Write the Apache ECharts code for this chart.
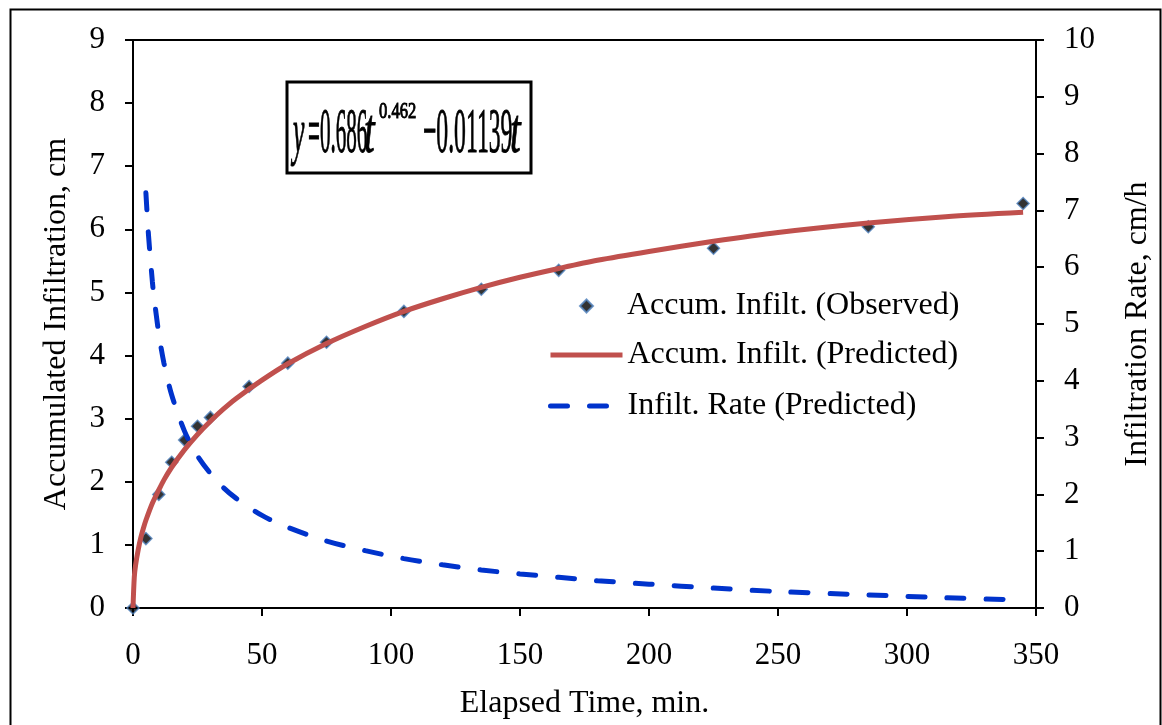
<!DOCTYPE html>
<html>
<head>
<meta charset="utf-8">
<script src="https://cdn.jsdelivr.net/npm/echarts@6/dist/echarts.min.js"></script>
<style>html,body{margin:0;padding:0;background:#fff}#c{width:1162px;height:725px}</style>
</head>
<body>
<div id="c"></div>
<script>
// Observed accumulated infiltration (t in min, cm)
var obsTime = [0, 5, 10, 15, 20, 25, 30, 45, 60, 75, 105, 135, 165, 225, 285, 345];
var obsAccum = [0, 1.1, 1.8, 2.31, 2.66, 2.88, 3.02, 3.51, 3.88, 4.21, 4.7, 5.05, 5.35, 5.7, 6.04, 6.41];
// Predicted accumulated infiltration curve
var predTime = [0, 0.5, 1, 2, 3, 4, 5, 7.5, 10, 12, 15, 20, 25, 30, 35, 40, 50, 60, 75, 90, 105, 120, 135, 150, 165, 180, 200, 225, 250, 285, 315, 345];
var predAccum = [0, 0.49, 0.68, 0.92, 1.11, 1.26, 1.39, 1.66, 1.87, 2.03, 2.23, 2.51, 2.75, 2.96, 3.15, 3.32, 3.61, 3.87, 4.19, 4.46, 4.70, 4.90, 5.08, 5.24, 5.38, 5.51, 5.65, 5.81, 5.95, 6.10, 6.20, 6.27];
// Predicted infiltration rate (cm/h)
var rateTime = [5, 6, 7.5, 8, 10, 12, 15, 20, 25, 30, 35, 40, 50, 60, 75, 90, 105, 120, 135, 150, 165, 180, 200, 225, 250, 285, 315, 345];
var rateVal = [7.31, 6.57, 5.75, 5.53, 4.83, 4.31, 3.75, 3.11, 2.68, 2.37, 2.12, 1.93, 1.63, 1.42, 1.18, 1.01, 0.87, 0.76, 0.67, 0.60, 0.54, 0.48, 0.42, 0.35, 0.29, 0.23, 0.18, 0.14];

var seriesNames = ['Accum. Infilt. (Observed)', 'Accum. Infilt. (Predicted)', 'Infilt. Rate (Predicted)'];
var xTitle = 'Elapsed Time, min.';
var yLeftTitle = 'Accumulated Infiltration, cm';
var yRightTitle = 'Infiltration Rate, cm/h';

function pairs(a, b) { return a.map(function (v, i) { return [v, b[i]]; }); }

var FONT = 'Liberation Serif';
var chart = echarts.init(document.getElementById('c'), null, {renderer: 'canvas'});

var axisCommon = {
  axisLine: {show: true, lineStyle: {color: '#000', width: 2}},
  axisTick: {show: true, inside: false, length: 8, lineStyle: {color: '#000', width: 2}},
  splitLine: {show: false},
  nameLocation: 'middle',
  nameTextStyle: {fontFamily: FONT, fontSize: 32, color: '#000'}
};
var legendText = {fontFamily: FONT, fontSize: 32, color: '#000', lineHeight: 30};

function eqText(x, y, sx, txt, font) {
  return {type: 'text', x: x, y: y, scaleX: sx, z: 11,
    style: {text: txt, font: font, fill: '#000', stroke: '#000', lineWidth: 1, verticalAlign: 'middle'}};
}

chart.setOption({
  animation: false,
  backgroundColor: '#fff',
  grid: {left: 133, right: 120, top: 40, bottom: 116, show: true, borderColor: '#000', borderWidth: 2, containLabel: false},
  xAxis: Object.assign({}, axisCommon, {
    type: 'value', min: 0, max: 350, interval: 50,
    name: xTitle, nameGap: 80,
    axisLabel: {fontFamily: FONT, fontSize: 31, color: '#000', margin: 32}
  }),
  yAxis: [
    Object.assign({}, axisCommon, {
      type: 'value', min: 0, max: 9, interval: 1, position: 'left',
      name: yLeftTitle, nameGap: 60,
      axisLabel: {fontFamily: FONT, fontSize: 31, color: '#000', margin: 28}
    }),
    Object.assign({}, axisCommon, {
      type: 'value', min: 0, max: 10, interval: 1, position: 'right',
      name: yRightTitle, nameGap: 86,
      axisLabel: {fontFamily: FONT, fontSize: 31, color: '#000', margin: 28}
    })
  ],
  legend: [
    {
      orient: 'vertical', left: 579, top: 290, padding: 0, itemWidth: 13, itemHeight: 13,
      textStyle: Object.assign({padding: [0, 0, 0, 29]}, legendText),
      data: [seriesNames[0]]
    },
    {
      orient: 'vertical', left: 548, top: 339, padding: 0, itemWidth: 72, itemHeight: 12, itemGap: 19,
      itemStyle: {opacity: 0},
      lineStyle: {width: 5},
      textStyle: legendText,
      data: [seriesNames[1], seriesNames[2]]
    }
  ],
  series: [
    {
      name: seriesNames[0], type: 'scatter', yAxisIndex: 0,
      data: pairs(obsTime, obsAccum), symbol: 'diamond', symbolSize: 12,
      itemStyle: {color: '#000', borderColor: '#4f81bd', borderWidth: 1.5}
    },
    {
      name: seriesNames[1], type: 'line', yAxisIndex: 0,
      data: pairs(predTime, predAccum), smooth: 0.3, showSymbol: false, symbol: 'none',
      lineStyle: {color: '#c0504d', width: 5}, itemStyle: {color: '#c0504d'}
    },
    {
      name: seriesNames[2], type: 'line', yAxisIndex: 1,
      data: pairs(rateTime, rateVal), smooth: 0.3, showSymbol: false, symbol: 'none',
      lineStyle: {color: '#0033cc', width: 5, type: [17, 22], cap: 'round'}, itemStyle: {color: '#0033cc'}
    }
  ],
  graphic: [
    {type: 'rect', left: 8, top: 7, shape: {x: 0, y: 0, width: 1150, height: 740}, style: {fill: 'none', stroke: '#000', lineWidth: 2}, silent: true},
    {type: 'rect', shape: {x: 287, y: 82, width: 244, height: 91}, style: {fill: '#fff', stroke: '#000', lineWidth: 3}, z: 10},
    eqText(293, 135, 0.4, 'y', 'italic 64px "Liberation Serif"'),
    eqText(308, 135, 0.33, '=0.686', '64px "Liberation Serif"'),
    eqText(364, 135, 0.6, 't', 'italic 64px "Liberation Serif"'),
    eqText(379, 112, 0.72, '0.462', '23px "Liberation Serif"'),
    eqText(423, 135, 0.37, '\u22120.01139', '64px "Liberation Serif"'),
    eqText(510, 135, 0.6, 't', 'italic 64px "Liberation Serif"')
  ]
});
</script>
</body>
</html>
